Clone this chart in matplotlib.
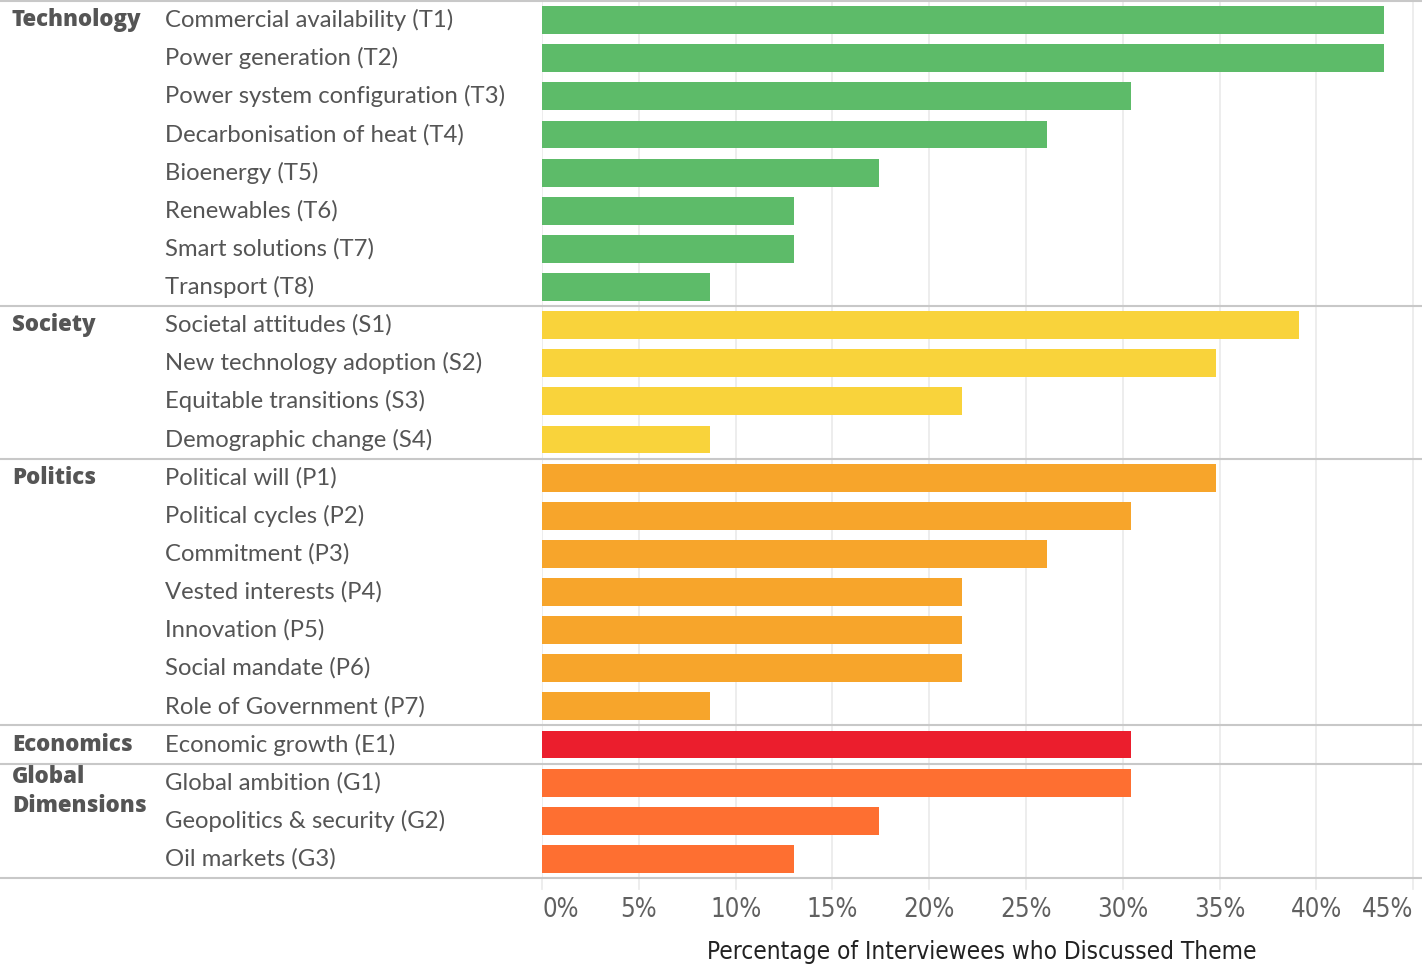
import matplotlib
matplotlib.use('Agg')
import matplotlib.pyplot as plt
from matplotlib.transforms import ScaledTranslation

# Themes grouped by category, values in % of interviewees
tech_labels = ['Commercial availability (T1)', 'Power generation (T2)', 'Power system configuration (T3)',
               'Decarbonisation of heat (T4)', 'Bioenergy (T5)', 'Renewables (T6)',
               'Smart solutions (T7)', 'Transport (T8)']
tech_values = [43.5, 43.5, 30.4, 26.1, 17.4, 13.0, 13.0, 8.7]

society_labels = ['Societal attitudes (S1)', 'New technology adoption (S2)',
                  'Equitable transitions (S3)', 'Demographic change (S4)']
society_values = [39.1, 34.8, 21.7, 8.7]

politics_labels = ['Political will (P1)', 'Political cycles (P2)', 'Commitment (P3)',
                   'Vested interests (P4)', 'Innovation (P5)', 'Social mandate (P6)',
                   'Role of Government (P7)']
politics_values = [34.8, 30.4, 26.1, 21.7, 21.7, 21.7, 8.7]

economics_labels = ['Economic growth (E1)']
economics_values = [30.4]

global_labels = ['Global ambition (G1)', 'Geopolitics & security (G2)', 'Oil markets (G3)']
global_values = [30.4, 17.4, 13.0]

group_names = ['Technology', 'Society', 'Politics', 'Economics', 'Global\nDimensions']
group_colors = ['#5dbb69', '#f9d33b', '#f7a52b', '#eb1e2d', '#fe6f31']
xticks = [0, 5, 10, 15, 20, 25, 30, 35, 40, 45]

groups = [
    (tech_labels, tech_values),
    (society_labels, society_values),
    (politics_labels, politics_values),
    (economics_labels, economics_values),
    (global_labels, global_values),
]

plt.rcParams['font.family'] = ['Lato', 'DejaVu Sans']
text_color = '#555555'

fig = plt.figure(figsize=(14.22, 9.65), dpi=100)
W, H = 1422, 965
ax = fig.add_axes([542 / W, 1 - 878 / H, 1 - 542 / W, 877 / H])

n_rows = sum(len(g[0]) for g in groups)
row = 0
boundaries = [-0.5]
for gi, (labels, values) in enumerate(groups):
    ys = list(range(row, row + len(labels)))
    ax.barh(ys, values, height=0.73, color=group_colors[gi], zorder=2)
    for y, lab in zip(ys, labels):
        ax.annotate(lab, xy=(165 / W, y), xycoords=('figure fraction', 'data'),
                    fontsize=17.2, color=text_color, va='center', ha='left')
    two_line = '\n' in group_names[gi]
    ax.annotate(group_names[gi], xy=(12 / W, row), xycoords=('figure fraction', 'data'),
                family=['Open Sans', 'DejaVu Sans'], fontsize=16, fontweight=800,
                color=text_color, va='top' if two_line else 'center', ha='left',
                linespacing=1.3, xytext=(0, 13 if two_line else 0), textcoords='offset points')
    row += len(labels)
    boundaries.append(row - 0.5)

ax.set_ylim(n_rows - 0.5, -0.5)
ax.set_xlim(0, 45.45)

for b in boundaries:
    ax.axhline(b, xmin=-542 / 880, xmax=1, color='#c8c8c8', linewidth=1.5, clip_on=False, zorder=3)

for xt in xticks:
    ax.axvline(xt, color='#ececec', linewidth=1.3, zorder=0)
    ax.plot([xt, xt], [n_rows - 0.5, n_rows - 0.2], color='#ececec', linewidth=1.3, clip_on=False)

ax.set_xticks(xticks)
ax.set_xticklabels([f'{v}%' for v in xticks], fontsize=18.5,
                   family='DejaVu Sans', stretch='condensed', color='#606060')
tick_labels = ax.get_xticklabels()
first, last = tick_labels[0], tick_labels[-1]
first.set_horizontalalignment('left')
first.set_transform(first.get_transform() + ScaledTranslation(0.05, 0, fig.dpi_scale_trans))
last.set_horizontalalignment('right')
last.set_transform(last.get_transform() + ScaledTranslation(0.08, 0, fig.dpi_scale_trans))
ax.tick_params(axis='x', length=0, pad=14)
ax.set_yticks([])
for s in ax.spines.values():
    s.set_visible(False)

ax.set_xlabel('Percentage of Interviewees who Discussed Theme', fontsize=17.5,
              family='DejaVu Sans', stretch='condensed',
              color='#222222', labelpad=12)

fig.savefig('out.png', dpi=100, facecolor='white')
